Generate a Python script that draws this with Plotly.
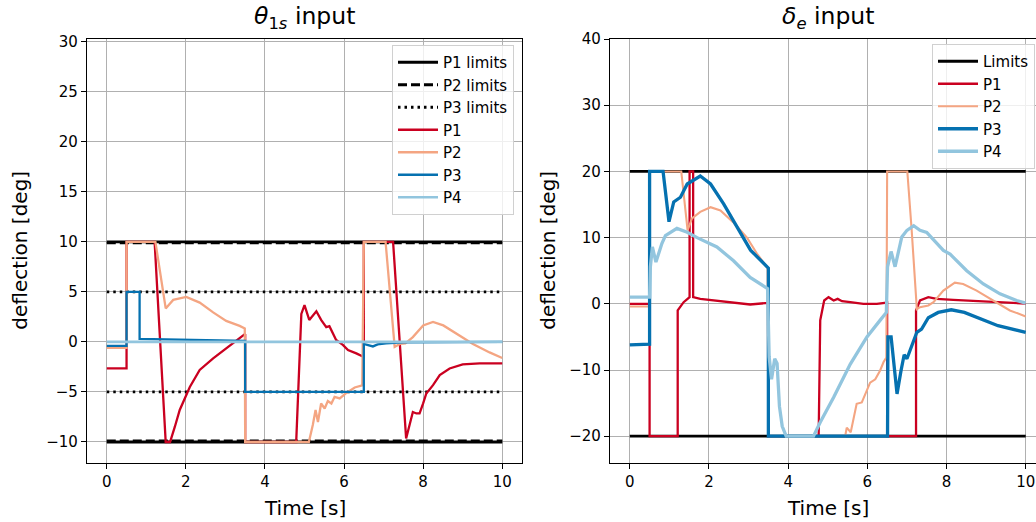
import plotly.graph_objects as go

# ---------------- data: left panel (theta_1s input) ----------------
L_LIM_P1 = 10.0
L_LIM_P2 = 9.9
L_LIM_P3 = 5.0
L_LIM_T = [0, 10]

L_P1_t = [0, 0.5, 0.5, 1.21, 1.49, 1.6, 1.72, 1.845, 2.1, 2.35, 2.69, 3.02, 3.45, 3.5, 3.5, 4.79, 4.92, 5.0, 5.12, 5.3,
          5.42, 5.55, 5.63, 5.8, 5.97, 6.1, 6.31, 6.48, 6.5, 6.5, 7.24, 7.57, 7.66, 7.74, 7.83, 7.91, 8.0, 8.08, 8.25, 8.42,
          8.67, 9.0, 9.43, 10.0]
L_P1_v = [-2.65, -2.65, 10, 10, -10, -10, -8.5, -6.8, -4.5, -2.8, -1.65, -0.65, 0.68, 0.8, -10, -10, 2.8, 3.68, 2.2, 3.07,
          2.2, 1.47, 1.57, 0.2, -0.3, -0.82, -1.15, -1.48, -1.5, 10, 10, -9.65, -8.15, -7.0, -7.15, -7.15, -6.15, -5.15, -4.32, -3.32,
          -2.65, -2.25, -2.15, -2.15]

L_P2_t = [0, 0.5, 0.5, 1.23, 1.49, 1.68, 2.01, 2.35, 2.69, 3.02, 3.36, 3.49, 3.5, 5.11, 5.21, 5.28, 5.34, 5.42, 5.51, 5.59,
          5.68, 5.76, 5.89, 6.06, 6.27, 6.46, 6.5, 7.05, 7.28, 7.41, 7.55, 7.74, 8.0, 8.25, 8.51, 8.84, 9.26, 9.68, 10.0]
L_P2_v = [-0.6, -0.6, 10, 10, 3.35, 4.2, 4.5, 3.93, 2.95, 2.1, 1.6, 1.35, -10, -10, -8.3, -6.8, -8.0, -6.15, -6.65, -5.9,
          -6.15, -5.5, -5.65, -5.1, -4.55, -4.35, 10, 10, -0.5, -0.2, -0.15, 0.48, 1.65, 2.0, 1.65, 0.82, -0.2, -1.05, -1.6]

L_P3_t = [0, 0.5, 0.5, 0.83, 0.83, 1.5, 2.5, 3.5, 3.5, 6.5, 6.5, 6.6, 6.73, 6.85, 7.06, 7.5, 10]
L_P3_v = [-0.4, -0.4, 5.0, 5.0, 0.3, 0.25, 0.15, 0.1, -5.0, -5.0, -0.2, -0.3, -0.45, -0.25, -0.15, -0.05, 0]

L_P4_t = [0, 10]
L_P4_v = [0, 0]

# ---------------- data: right panel (delta_e input) ----------------
R_LIM = 20.0
R_LIM_T = [0, 10]

R_P1_t = [0, 0.5, 0.5, 1.21, 1.21, 1.36, 1.51, 1.51, 1.6, 1.6, 1.78, 2.2, 2.62, 3.04, 3.42, 3.5, 3.5, 4.77, 4.81, 4.91,
          5.02, 5.15, 5.25, 5.36, 5.57, 5.9, 6.24, 6.45, 6.5, 6.5, 7.23, 7.23, 7.33, 7.54, 7.75, 8.17, 8.93, 10]
R_P1_v = [0, 0, -20, -20, -1.0, 0.25, 1.0, 20, 20, 1.0, 0.75, 0.5, 0.25, -0.1, 0.1, 0.1, -20, -20, -2.5, 0.5,
          1.0, 0.5, 0.75, 0.4, 0.25, 0, 0, 0.2, 0.2, -20, -20, -1.0, 0.5, 1.0, 0.75, 0.6, 0.4, 0.05]

R_P2_t = [0, 0.5, 0.5, 1.3, 1.46, 1.57, 1.78, 2.04, 2.29, 2.63, 2.96, 3.21, 3.48, 3.5, 5.44, 5.48, 5.58, 5.73, 5.86, 5.99,
          6.07, 6.2, 6.32, 6.41, 6.48, 6.5, 7.01, 7.12, 7.25, 7.33, 7.54, 7.67, 7.92, 8.21, 8.42, 8.76, 9.18, 9.6, 10]
R_P2_v = [-0.4, -0.4, 20, 20, 11.1, 12.9, 13.9, 14.6, 14.1, 12.2, 10.0, 7.6, 5.4, -20, -20, -18.7, -19.4, -15.1, -14.9, -13.1,
          -11.9, -11.4, -10.1, -8.8, -8.1, 20, 20, 11.1, -0.8, -0.5, -0.25, 0.25, 2.0, 3.2, 3.0, 2.0, 0.5, -1.0, -1.9]

R_P3_t = [0, 0.5, 0.5, 0.84, 0.99, 1.11, 1.28, 1.45, 1.78, 2.04, 2.37, 2.71, 3.05, 3.5, 3.5, 6.51, 6.52, 6.6, 6.75, 6.85,
          6.93, 7.0, 7.13, 7.25, 7.37, 7.54, 7.79, 8.12, 8.45, 8.87, 9.3, 10]
R_P3_v = [-6.2, -6.1, 20, 20, 12.4, 15.4, 16.1, 18.1, 19.3, 18.1, 15.1, 11.6, 8.1, 5.4, -20, -20, -5.0, -5.0, -13.6, -10.1,
          -7.7, -8.3, -6.1, -4.3, -3.8, -2.1, -1.3, -0.9, -1.3, -2.3, -3.3, -4.3]

R_P4_t = [0, 0.5, 0.52, 0.57, 0.66, 0.72, 0.81, 0.9, 0.99, 1.19, 1.45, 1.7, 2.2, 2.62, 3.04, 3.48, 3.52, 3.58, 3.66, 3.72,
          3.78, 3.85, 3.95, 4.64, 4.81, 5.15, 5.57, 5.99, 6.32, 6.48, 6.51, 6.6, 6.7, 6.78, 6.87, 7.0, 7.17, 7.33, 7.5, 7.92,
          8.09, 8.51, 8.93, 9.35, 9.77, 10]
R_P4_v = [1.0, 1.0, 5.6, 8.6, 6.3, 7.5, 9.1, 10.3, 10.6, 11.4, 10.8, 10.0, 8.6, 6.5, 4.0, 2.3, -8.0, -11.4, -8.3, -9.0,
          -15.5, -18.5, -20, -20, -17.9, -14.1, -9.1, -5.0, -2.5, -1.3, 5.6, 7.9, 5.6, 7.6, 10.1, 11.1, 11.8, 11.1, 10.8, 8.06,
          7.5, 5.0, 3.0, 1.5, 0.5, 0.1]

X_TICKS = [0, 2, 4, 6, 8, 10]
L_Y_TICKS = [-10, -5, 0, 5, 10, 15, 20, 25, 30]
R_Y_TICKS = [-20, -10, 0, 10, 20, 30, 40]

LEFT_TITLE = "<i>θ</i><sub>1<i>s</i></sub> input"
RIGHT_TITLE = "<i>δ</i><sub><i>e</i></sub> input"
X_LABEL = "Time [s]"
Y_LABEL = "deflection [deg]"

# ---------------- style ----------------
C1, C2, C3, C4 = "#ca0020", "#f4a582", "#0571b0", "#92c5de"
FONT = "DejaVu Sans"
W, H = 1036, 522


def limit_xy(tt, lv):
    return [tt[0], tt[1], None, tt[0], tt[1]], [lv, lv, None, -lv, -lv]


fig = go.Figure()

# left panel
for name, lv, dash in [("P1 limits", L_LIM_P1, "solid"), ("P2 limits", L_LIM_P2, "9px,4px"),
                       ("P3 limits", L_LIM_P3, "2.5px,4px")]:
    x, y = limit_xy(L_LIM_T, lv)
    fig.add_trace(go.Scatter(x=x, y=y, mode="lines", name=name, legend="legend",
                             line=dict(color="black", width=2.8, dash=dash), xaxis="x", yaxis="y"))
for name, t, v, c, w in [("P1", L_P1_t, L_P1_v, C1, 2.3), ("P2", L_P2_t, L_P2_v, C2, 2.3),
                         ("P3", L_P3_t, L_P3_v, C3, 2.3), ("P4", L_P4_t, L_P4_v, C4, 2.7)]:
    fig.add_trace(go.Scatter(x=t, y=v, mode="lines", name=name, legend="legend",
                             line=dict(color=c, width=w), xaxis="x", yaxis="y"))

# right panel
x, y = limit_xy(R_LIM_T, R_LIM)
fig.add_trace(go.Scatter(x=x, y=y, mode="lines", name="Limits", legend="legend2",
                         line=dict(color="black", width=2.8), xaxis="x2", yaxis="y2"))
for name, t, v, c, w in [("P1", R_P1_t, R_P1_v, C1, 2.3), ("P2", R_P2_t, R_P2_v, C2, 2.1),
                         ("P3", R_P3_t, R_P3_v, C3, 3.3), ("P4", R_P4_t, R_P4_v, C4, 3.3)]:
    fig.add_trace(go.Scatter(x=t, y=v, mode="lines", name=name, legend="legend2",
                             line=dict(color=c, width=w), xaxis="x2", yaxis="y2"))

ax_common = dict(showgrid=True, gridcolor="#b0b0b0", gridwidth=1, zeroline=False,
                 showline=True, linecolor="black", linewidth=1.2,
                 ticks="outside", ticklen=5, tickwidth=1.2, tickcolor="black",
                 tickfont=dict(family=FONT, size=15, color="black"))

y_dom = [1 - 462.7 / H, 1 - 38.7 / H]
leg_common = dict(bgcolor="rgba(255,255,255,0.8)", bordercolor="#d0d0d0", borderwidth=1,
                  font=dict(family=FONT, size=15, color="black"), tracegroupgap=0, itemwidth=40)
fig.update_layout(
    width=W, height=H,
    margin=dict(l=0, r=0, t=0, b=0, autoexpand=False),
    paper_bgcolor="white", plot_bgcolor="white",
    font=dict(family=FONT, color="black"),
    xaxis=dict(domain=[87 / W, 522 / W], range=[-0.5, 10.5], tickvals=X_TICKS, mirror=True,
               anchor="y", **ax_common),
    yaxis=dict(domain=y_dom, range=[-12.07, 30.3], tickvals=L_Y_TICKS, mirror=True,
               anchor="x", **ax_common),
    xaxis2=dict(domain=[610 / W, 1.0], range=[-0.5, (W - 629.3) / 39.64], tickvals=X_TICKS, mirror=True,
                anchor="y2", **ax_common),
    yaxis2=dict(domain=y_dom, range=[-24.0, 40.05], tickvals=R_Y_TICKS, mirror=False,
                anchor="x2", **ax_common),
    legend=dict(x=514 / W, y=1 - 45 / H, xanchor="right", yanchor="top", **leg_common),
    legend2=dict(x=932 / W, y=1 - 44 / H, xanchor="left", yanchor="top", **leg_common),
    showlegend=True,
)

anns = [
    dict(text=LEFT_TITLE, x=304.5 / W, y=1 - 18 / H, font=dict(size=23.5)),
    dict(text=RIGHT_TITLE, x=827.7 / W, y=1 - 18 / H, font=dict(size=23.5)),
    dict(text=X_LABEL, x=304.5 / W, y=1 - 508 / H, font=dict(size=20)),
    dict(text=X_LABEL, x=827.7 / W, y=1 - 508 / H, font=dict(size=20)),
    dict(text=Y_LABEL, x=20 / W, y=1 - 250.7 / H, font=dict(size=20), textangle=-90),
    dict(text=Y_LABEL, x=548 / W, y=1 - 250.7 / H, font=dict(size=20), textangle=-90),
]
for a in anns:
    fig.add_annotation(xref="paper", yref="paper", showarrow=False, xanchor="center", yanchor="middle",
                       **{k: v for k, v in a.items() if k != "font"},
                       font=dict(family=FONT, color="black", **a["font"]))

fig.write_html("out.html", config={"displayModeBar": False},
               post_script="document.body.style.margin='0';document.body.style.overflow='hidden';")
